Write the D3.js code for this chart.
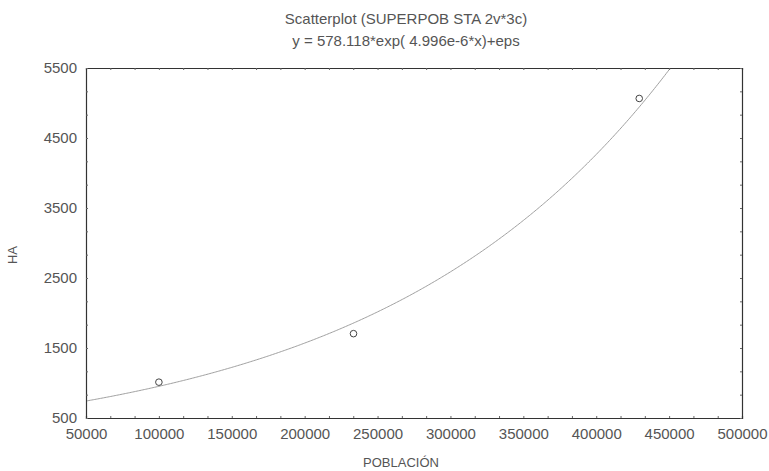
<!DOCTYPE html>
<html><head><meta charset="utf-8">
<script src="https://cdn.jsdelivr.net/npm/d3@7"></script>
<style>
body{margin:0;background:#fff;}
text{font-family:"Liberation Sans",Arial,sans-serif;}
</style></head>
<body><svg id="c" width="769" height="471"></svg>
<script>
const titleLines = ["Scatterplot (SUPERPOB STA 2v*3c)", "y = 578.118*exp( 4.996e-6*x)+eps"];
const xLabel = "POBLACIÓN";
const yLabel = "HA";
const poblacion = [100000, 233500, 429500];
const ha = [1012, 1705, 5065];
const xTicks = [50000,100000,150000,200000,250000,300000,350000,400000,450000,500000];
const yTicks = [500,1500,2500,3500,4500,5500];
const fitA = 578.118, fitB = 4.996e-6;

const svg = d3.select("#c");
const m = {l:86, r:742, t:68, b:418};
const x = d3.scaleLinear().domain([50000,500000]).range([m.l,m.r]);
const y = d3.scaleLinear().domain([500,5500]).range([m.b,m.t]);

// minor ticks every third of a major interval
const xMinor = d3.range(50000, 500001, 50000/3);
const yMinor = d3.range(500, 5501, 1000/3);

const g = svg.append("g");
// curve
const xmax = Math.log(5500/fitA)/fitB;
const curvePts = d3.range(50000, xmax, 1000).concat([xmax]).map(v=>[v, fitA*Math.exp(fitB*v)]);
g.append("path").datum(curvePts)
  .attr("d", d3.line().x(d=>x(d[0])).y(d=>y(d[1])))
  .attr("fill","none").attr("stroke","#a0a0a0").attr("stroke-width",1);

// axes (inner ticks)
const axB = d3.axisBottom(x).tickValues(xMinor).tickSize(-2).tickFormat("");
const axT = d3.axisTop(x).tickValues(xMinor).tickSize(-2).tickFormat("");
const axL = d3.axisLeft(y).tickValues(yMinor).tickSize(-2).tickFormat("");
const axR = d3.axisRight(y).tickValues(yMinor).tickSize(-2).tickFormat("");
[[axB,`translate(0,${m.b})`],[axT,`translate(0,${m.t})`],[axL,`translate(${m.l},0)`],[axR,`translate(${m.r},0)`]].forEach(([a,t])=>{
  const s = g.append("g").attr("transform",t).call(a);
  s.select(".domain").attr("stroke","#333").attr("stroke-width",1.2);
  s.selectAll(".tick line").attr("stroke","#666");
});

// tick labels
const xl = g.append("g").attr("transform",`translate(0,${m.b})`)
  .call(d3.axisBottom(x).tickValues(xTicks).tickSize(0).tickPadding(10).tickFormat(d3.format("d")));
xl.select(".domain").remove();
xl.selectAll("text").attr("font-size",15).attr("fill","#555").attr("font-family","Liberation Sans, Arial, sans-serif");
const yl = g.append("g").attr("transform",`translate(${m.l},0)`)
  .call(d3.axisLeft(y).tickValues(yTicks).tickSize(0).tickPadding(9).tickFormat(d3.format("d")));
yl.select(".domain").remove();
yl.selectAll("text").attr("font-size",15).attr("fill","#555").attr("font-family","Liberation Sans, Arial, sans-serif");

// points
g.selectAll("circle.pt").data(poblacion).enter().append("circle")
  .attr("class","pt")
  .attr("cx",(d)=>x(d)).attr("cy",(d,i)=>y(ha[i])).attr("r",3.3)
  .attr("fill","none").attr("stroke","#444").attr("stroke-width",1);

// titles
svg.selectAll("text.title").data(titleLines).enter().append("text")
  .attr("class","title").attr("x",406).attr("y",(d,i)=>24+i*22)
  .attr("text-anchor","middle").attr("font-size",15).attr("fill","#555").text(d=>d);
svg.append("text").attr("x",401).attr("y",467).attr("text-anchor","middle")
  .attr("font-size",13).attr("fill","#555").text(xLabel);
svg.append("text").attr("transform","translate(17,255) rotate(-90)").attr("text-anchor","middle")
  .attr("font-size",13).attr("fill","#555").text(yLabel);
</script></body></html>
